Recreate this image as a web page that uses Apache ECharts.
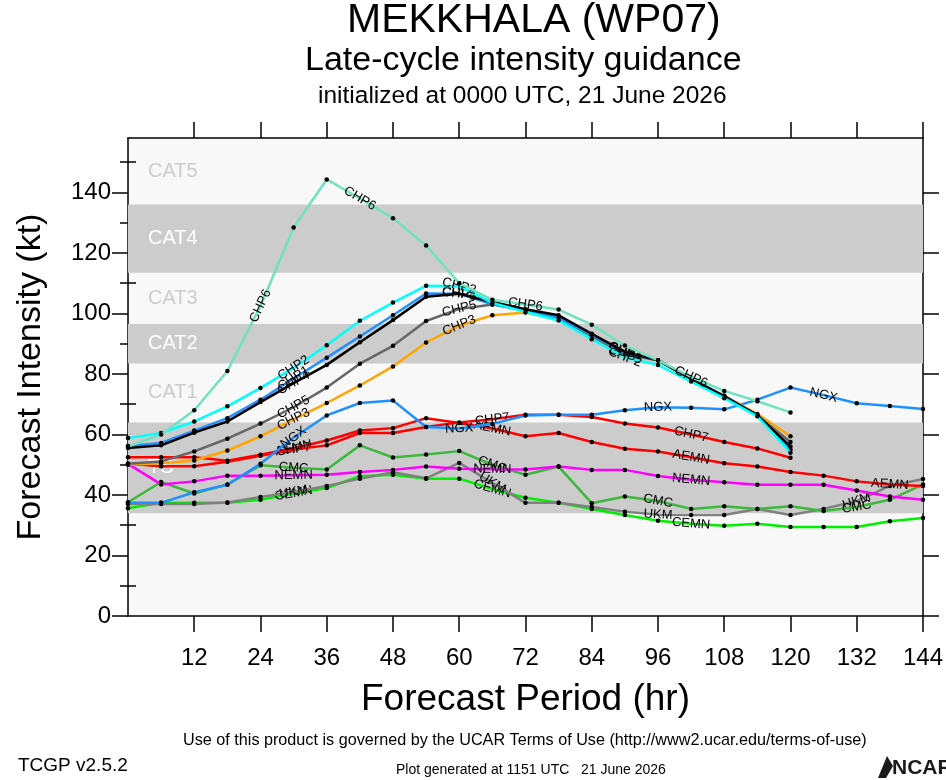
<!DOCTYPE html>
<html>
<head>
<meta charset="utf-8">
<title>MEKKHALA (WP07) late-cycle intensity guidance</title>
<script src="https://cdn.jsdelivr.net/npm/echarts@6/dist/echarts.min.js"></script>
<style>
  html, body { margin: 0; padding: 0; background: #fff; }
  #chart { width: 946px; height: 780px; }
</style>
</head>
<body>
<div id="chart"></div>
<script>
// forecast hours (every 6 h)
const hours = [0, 6, 12, 18, 24, 30, 36, 42, 48, 54, 60, 66, 72, 78, 84, 90, 96, 102, 108, 114, 120, 126, 132, 138, 144];
const xTicks = [12, 24, 36, 48, 60, 72, 84, 96, 108, 120, 132, 144];
const yMajor = [0, 20, 40, 60, 80, 100, 120, 140];
const yMinor = [10, 30, 50, 70, 90, 110, 130, 150];

// intensity (kt)
const chp6 = [56, 60, 68, 81, 102.5, 128.4, 144.3, 138, 131.5, 122.5, 110, 104.5, 103, 101.3, 96.3, 89.4, 84.5, 79, 74.4, 71, 67.3];
const chp2 = [58.8, 60.5, 64.3, 69.3, 75.4, 82, 89.5, 97.6, 103.6, 109.2, 109, 103.5, 100.5, 97.7, 91.5, 85.5, 83, 77.5, 72, 66, 54];
const chp1 = [56.2, 57.2, 61.3, 65.4, 71.5, 78.5, 85.4, 92.4, 99.4, 106.6, 106.5, 103, 101, 98.5, 93, 87, 84.5, 78.5, 72.8, 66.3, 55];
const chp4 = [55.5, 56.4, 60.6, 64.3, 70.7, 77, 83, 90.5, 97.8, 105.5, 106.5, 103.8, 101.4, 99.4, 93.3, 87.3, 84.5, 78.4, 72.6, 66.3, 56];
const chp5 = [50.3, 51.1, 54.4, 58.6, 63.6, 69, 75.5, 83.4, 89.3, 97.5, 101.5, 103, 101, 98.5, 92.5, 86.5, 84.5, 78.4, 72.6, 66.3, 57.5];
const chp3 = [50, 50.5, 51.4, 54.7, 59.4, 65, 70.4, 76.2, 82.5, 90.4, 96, 99.4, 100.3, 98, 92, 86.3, 84.5, 78.5, 72.8, 66.8, 59.4];
const chp7 = [50.3, 49.5, 49.5, 51, 53, 55, 56.4, 60.5, 60.5, 62.5, 64, 65, 66.5, 66.5, 65.8, 63.6, 62.3, 60, 57.5, 55.4, 52.3];
const aemn = [52.5, 52.5, 52.5, 51.3, 53.3, 55.5, 58, 61.3, 62.1, 65.4, 63.8, 62, 59.4, 60.5, 57.5, 55.3, 54.4, 52.5, 50.5, 49.4, 47.6, 46.4, 44.5, 43.5, 43];
const nemn = [50.3, 43.5, 44.5, 46.4, 46.4, 46.5, 46.7, 47.6, 48.3, 49.4, 48.7, 48.5, 48.4, 49.4, 48.3, 48.3, 46.3, 45, 44.2, 43.4, 43.4, 43.4, 41.5, 39.5, 38.4];
const cmc = [37.6, 44.3, 40.5, 43.5, 49.8, 49, 48.4, 56.4, 52.4, 53.4, 54.5, 50, 46.7, 49.4, 37.3, 39.5, 38, 35.4, 36.3, 35.4, 36.3, 34.7, 36, 38.4, 43.5];
const ukm = [37, 37, 37, 37.5, 39.3, 41, 43, 45.4, 47.5, 45.5, 50.6, 44, 37.4, 37.4, 36, 34.5, 33.5, 33.4, 33.4, 35.4, 33.4, 35.4, 38, 43, 45.3];
const cemn = [35.6, 37.4, 37.4, 37.4, 38.4, 40.5, 42.3, 46.2, 46.7, 45.4, 45.4, 42, 39.1, 37.4, 35.4, 33.4, 31.5, 30.5, 29.8, 30.5, 29.4, 29.4, 29.4, 31.3, 32.4];
const ngx = [37.4, 37.4, 40.9, 43.4, 50.3, 59, 66.3, 70.4, 71.2, 62.5, 62, 63.5, 66.3, 66.5, 66.5, 68, 69, 68.8, 68.3, 71.5, 75.5, 73, 70.3, 69.4, 68.4];

// Saffir-Simpson bands (kt)
const bandNames = ['TS', 'CAT1', 'CAT2', 'CAT3', 'CAT4', 'CAT5'];
const bandLow = [34, 64, 83.5, 96.5, 113.5, 136];
const bandHigh = [64, 83.5, 96.5, 113.5, 136, 158];
const bandShaded = [true, false, true, false, true, false];

const font = '"Liberation Sans", Arial, Helvetica, sans-serif';

const models = [
    { name: 'CEMN', color: '#00ee00', data: cemn, labels: [5, 11, 17] },
    { name: 'UKM', color: '#808080', data: ukm, labels: [5, 11, 16, 22] },
    { name: 'CMC', color: '#3cb83c', data: cmc, labels: [5, 11, 16, 22] },
    { name: 'NEMN', color: '#ff00ff', data: nemn, labels: [5, 11, 17] },
    { name: 'AEMN', color: '#ff0000', data: aemn, labels: [5, 11, 17, 23] },
    { name: 'CHP7', color: '#ff0000', data: chp7, labels: [5, 11, 17] },
    { name: 'NGX', color: '#1e90ff', data: ngx, labels: [5, 10, 16, 21] },
    { name: 'CHP3', color: '#ffa500', data: chp3, labels: [5, 10, 15] },
    { name: 'CHP5', color: '#666666', data: chp5, labels: [5, 10, 15] },
    { name: 'CHP1', color: '#1e90ff', data: chp1, labels: [5, 10, 15] },
    { name: 'CHP4', color: '#000000', data: chp4, labels: [5, 10, 15] },
    { name: 'CHP2', color: '#00ffff', data: chp2, labels: [5, 10, 15] },
    { name: 'CHP6', color: '#70e2c0', data: chp6, labels: [4, 7, 12, 17] }
];

const chart = echarts.init(document.getElementById('chart'), null, { renderer: 'canvas' });

function bandArea() {
    return bandNames.map((n, i) => [
        {
            name: n,
            yAxis: bandLow[i],
            itemStyle: { color: bandShaded[i] ? '#cccccc' : 'rgba(0,0,0,0)' },
            label: { color: bandShaded[i] ? '#ffffff' : '#cccccc' }
        },
        { yAxis: bandHigh[i] }
    ]);
}

function buildSeries(rot) {
    return models.map((m, k) => {
        const s = {
            type: 'line',
            name: m.name,
            z: 3 + k,
            symbol: 'circle',
            symbolSize: 4.5,
            itemStyle: { color: '#000' },
            lineStyle: { color: m.color, width: 2.5 },
            emphasis: { disabled: true },
            silent: true,
            animation: false,
            data: m.data.map((v, i) => {
                const item = { value: [hours[i], v] };
                if (m.labels.indexOf(i) >= 0) {
                    item.symbolSize = 2;
                    item.itemStyle = { color: 'rgba(0,0,0,0)' };
                    item.label = {
                        show: true,
                        position: 'inside',
                        formatter: m.name,
                        rotate: rot ? rot[m.name][i] : 0,
                        fontSize: 13,
                        fontFamily: font,
                        color: '#000'
                    };
                }
                return item;
            })
        };
        if (k === 0) {
            s.markArea = {
                silent: true,
                z: 1,
                label: { position: 'insideLeft', distance: 20, fontSize: 20, fontFamily: font },
                data: bandArea()
            };
        }
        return s;
    });
}

const axisLine = { show: true, onZero: false, lineStyle: { color: '#000', width: 1.5 } };
const tickStyle = { color: '#000', width: 1.5 };

const option = {
    animation: false,
    backgroundColor: '#ffffff',
    textStyle: { fontFamily: font },
    grid: {
        left: 128, right: 23, top: 138, bottom: 164,
        show: true, backgroundColor: '#f8f8f8', borderWidth: 0
    },
    xAxis: [
        {
            type: 'value', min: 0, max: 144, interval: 12, position: 'bottom',
            axisLine: axisLine,
            axisTick: { show: true, length: 16, customValues: xTicks, lineStyle: tickStyle },
            axisLabel: { customValues: xTicks, fontSize: 24, color: '#000', margin: 30, fontFamily: font },
            splitLine: { show: false },
            name: 'Forecast Period (hr)', nameLocation: 'middle', nameGap: 65,
            nameTextStyle: { fontSize: 37, color: '#000', fontFamily: font }
        },
        {
            type: 'value', min: 0, max: 144, interval: 12, position: 'top',
            axisLine: axisLine,
            axisTick: { show: true, length: 16, customValues: xTicks, lineStyle: tickStyle },
            axisLabel: { show: false },
            splitLine: { show: false }
        }
    ],
    yAxis: [
        {
            type: 'value', min: 0, max: 158, interval: 20, position: 'left',
            axisLine: axisLine,
            axisTick: { show: true, length: 16, customValues: yMajor, lineStyle: tickStyle },
            axisLabel: { customValues: yMajor, fontSize: 24, color: '#000', margin: 17, fontFamily: font },
            splitLine: { show: false },
            name: 'Forecast Intensity (kt)', nameLocation: 'middle', nameGap: 80,
            nameTextStyle: { fontSize: 34, color: '#000', fontFamily: font }
        },
        {
            type: 'value', min: 0, max: 158, interval: 20, position: 'left',
            axisLine: { show: false },
            axisTick: { show: true, length: 8, customValues: yMinor, lineStyle: tickStyle },
            axisLabel: { show: false },
            splitLine: { show: false }
        },
        {
            type: 'value', min: 0, max: 158, interval: 20, position: 'right',
            axisLine: axisLine,
            axisTick: { show: true, length: 16, customValues: yMajor, lineStyle: tickStyle },
            axisLabel: { show: false },
            splitLine: { show: false }
        },
        {
            type: 'value', min: 0, max: 158, interval: 20, position: 'right',
            axisLine: { show: false },
            axisTick: { show: true, length: 8, customValues: yMinor, lineStyle: tickStyle },
            axisLabel: { show: false },
            splitLine: { show: false }
        }
    ],
    graphic: [
        { type: 'text', left: 347, top: 0, style: { text: 'MEKKHALA (WP07)', font: '41px ' + font, fill: '#000' } },
        { type: 'text', left: 305, top: 44, style: { text: 'Late-cycle intensity guidance', font: '34px ' + font, fill: '#000' } },
        { type: 'text', left: 318, top: 84, style: { text: 'initialized at 0000 UTC, 21 June 2026', font: '24.5px ' + font, fill: '#000' } },
        { type: 'text', left: 183, top: 733, style: { text: 'Use of this product is governed by the UCAR Terms of Use (http://www2.ucar.edu/terms-of-use)', font: '16.2px ' + font, fill: '#000' } },
        { type: 'text', left: 18, top: 756, style: { text: 'TCGP v2.5.2', font: '19px ' + font, fill: '#000' } },
        { type: 'text', left: 396, top: 763, style: { text: 'Plot generated at 1151 UTC   21 June 2026', font: '14px ' + font, fill: '#000' } },
        { type: 'polygon', shape: { points: [[878, 778], [887, 756], [893, 766], [886, 778]] }, style: { fill: '#1a1a1a' } },
        { type: 'text', left: 892, top: 758, style: { text: 'NCAR', font: 'bold 21px ' + font, fill: '#1a1a1a' } }
    ],
    series: buildSeries(null)
};
chart.setOption(option);

// rotate each in-line label along its segment, using the chart's own scales
const rot = {};
models.forEach(m => {
    rot[m.name] = {};
    m.labels.forEach(i => {
        const a = Math.max(0, i - 1);
        const b = Math.min(m.data.length - 1, i + 1);
        const p1 = chart.convertToPixel({ xAxisIndex: 0, yAxisIndex: 0 }, [hours[a], m.data[a]]);
        const p2 = chart.convertToPixel({ xAxisIndex: 0, yAxisIndex: 0 }, [hours[b], m.data[b]]);
        rot[m.name][i] = -Math.atan2(p2[1] - p1[1], p2[0] - p1[0]) * 180 / Math.PI;
    });
});
chart.setOption({ series: buildSeries(rot) });
</script>
</body>
</html>
